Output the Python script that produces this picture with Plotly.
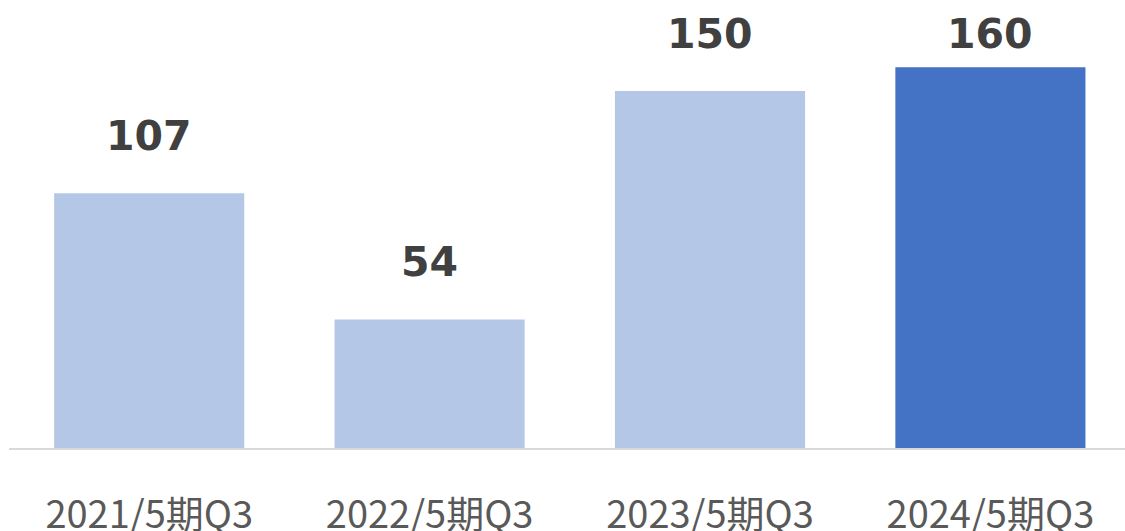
import plotly.graph_objects as go

categories = ["2021/5期Q3", "2022/5期Q3", "2023/5期Q3", "2024/5期Q3"]
values = [107, 54, 150, 160]
bar_colors = ["#B4C7E7", "#B4C7E7", "#B4C7E7", "#4472C4"]

LABEL_CAP = 150  # labels never placed higher than this level (as in the source)

fig = go.Figure()
fig.add_trace(go.Bar(
    x=categories, y=values,
    marker=dict(color=bar_colors, line=dict(width=0)),
    hoverinfo="skip",
))

for c, v in zip(categories, values):
    fig.add_annotation(
        x=c, y=min(v, LABEL_CAP), text=f"<b>{v}</b>", showarrow=False,
        yanchor="bottom", yshift=31,
        font=dict(family="DejaVu Sans", size=41, color="#404040"),
    )

fig.update_layout(
    width=1125, height=531,
    margin=dict(l=9, r=0, t=0, b=83, autoexpand=False),
    paper_bgcolor="white", plot_bgcolor="white",
    bargap=0.322,
    showlegend=False,
    xaxis=dict(
        type="category",
        range=[-0.5, 3.48],
        automargin=False,
        showline=True, linecolor="#D9D9D9", linewidth=2,
        showgrid=False, ticks="",
        ticklabelstandoff=32,
        tickfont=dict(family="Noto Sans CJK JP", size=38, color="#595959"),
    ),
    yaxis=dict(
        range=[0, 188.2],
        automargin=False,
        showgrid=False, showticklabels=False, zeroline=False, showline=False,
    ),
)

fig.write_html("out.html", config={"displayModeBar": False},
               post_script="document.body.style.margin='0';")
